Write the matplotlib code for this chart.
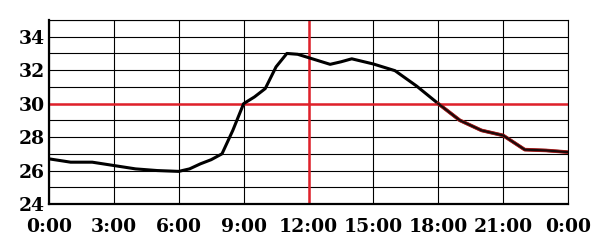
import matplotlib
matplotlib.use("Agg")
import matplotlib.pyplot as plt

hours = [0, 1, 2, 3, 4, 5, 6, 6.5, 7, 7.5, 8, 8.5, 9, 9.5, 10, 10.5, 11, 11.5, 12,
         12.5, 13, 13.5, 14, 15, 16, 17, 18, 19, 20, 21, 22, 23, 24]
temps = [26.7, 26.5, 26.5, 26.3, 26.1, 26.0, 25.95, 26.1, 26.4, 26.65, 27.0, 28.4,
         30.0, 30.4, 30.9, 32.2, 33.0, 32.95, 32.75, 32.55, 32.35, 32.5, 32.68, 32.37,
         31.97, 31.05, 30.0, 29.0, 28.4, 28.1, 27.25, 27.2, 27.1]
x_ticks = [0, 3, 6, 9, 12, 15, 18, 21, 24]
x_labels = ["0:00", "3:00", "6:00", "9:00", "12:00", "15:00", "18:00", "21:00", "0:00"]
y_ticks = [24, 26, 28, 30, 32, 34]
ref_temp = 30
ref_hour = 12

fig = plt.figure(figsize=(6, 2.5), dpi=100)
ax = fig.add_axes([49/600, 1-204/250, 519/600, 184/250])
ax.set_xlim(0, 24)
ax.set_ylim(24, 35)

for y in range(24, 36):
    ax.axhline(y, color="black", lw=0.8, zorder=1)
for x in x_ticks:
    ax.axvline(x, color="black", lw=0.8, zorder=1)

ax.axhline(ref_temp, color="#e0202a", lw=1.8, zorder=2)
ax.axvline(ref_hour, color="#e0202a", lw=1.8, zorder=2)

ax.plot(hours, temps, color="black", lw=2.2, zorder=3,
        solid_capstyle="round", solid_joinstyle="round")
i18 = hours.index(18)
ax.plot(hours[i18:], temps[i18:], color="#c02020", lw=2.6, zorder=3,
        solid_joinstyle="round")
ax.plot(hours[i18:], temps[i18:], color="#1a0a0a", lw=1.6, zorder=4,
        solid_joinstyle="round")

ax.set_xticks(x_ticks)
ax.set_xticklabels(x_labels)
ax.set_yticks(y_ticks)
ax.tick_params(axis="x", length=0, pad=10, labelsize=13.5)
ax.tick_params(axis="y", length=0, pad=3, labelsize=13.5)
for lab in ax.get_xticklabels() + ax.get_yticklabels():
    lab.set_fontfamily("DejaVu Serif")
    lab.set_fontweight("bold")

for s in ["left", "bottom"]:
    ax.spines[s].set_linewidth(1.6)
for s in ["top", "right"]:
    ax.spines[s].set_linewidth(0.8)

fig.savefig("out.png", dpi=100, facecolor="white")
